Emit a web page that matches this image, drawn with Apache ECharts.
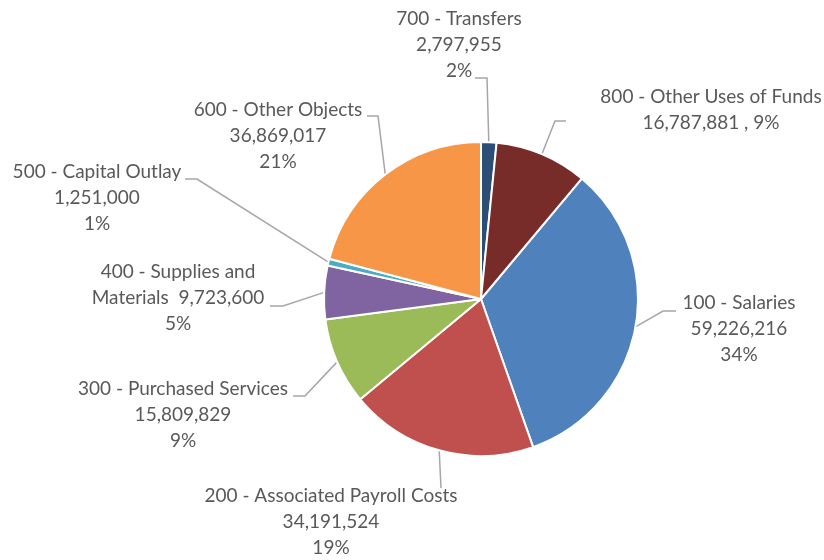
<!DOCTYPE html>
<html>
<head>
<meta charset="utf-8">
<script src="https://cdn.jsdelivr.net/npm/echarts@6/dist/echarts.min.js"></script>
<style>
  html, body { margin: 0; padding: 0; background: #ffffff; }
  #chart { width: 824px; height: 560px; }
</style>
</head>
<body>
<div id="chart"></div>
<script>
const categories = [
  "100 - Salaries",
  "200 - Associated Payroll Costs",
  "300 - Purchased Services",
  "400 - Supplies and Materials",
  "500 - Capital Outlay",
  "600 - Other Objects",
  "700 - Transfers",
  "800 - Other Uses of Funds",
];
const amounts = [59226216, 34191524, 15809829, 9723600, 1251000, 36869017, 2797955, 16787881];
const colors = ["#4f81bd", "#c0504d", "#9bbb59", "#8064a2", "#4bacc6", "#f79646", "#2c4d75", "#772c2a"];

// where each label sits and where its leader line bends / ends
const labelSpots = [
  { x: 739, y: 329, elbow: [663, 311], end: [676, 311] },
  { x: 331, y: 522, elbow: [441, 488], end: [441, 488] },
  { x: 183, y: 415, elbow: [305, 396], end: [293, 396] },
  { x: 178, y: 298, elbow: [283, 306], end: [270, 306] },
  { x: 97, y: 198, elbow: [197, 179], end: [185, 179] },
  { x: 278, y: 136, elbow: [378, 116], end: [367, 116] },
  { x: 459, y: 45, elbow: [487, 78], end: [475, 78] },
  { x: 711, y: 110, elbow: [555, 121], end: [566, 121] },
];

const total = amounts.reduce((a, b) => a + b, 0);
// first slice (100) starts after 700 and 800, which sit at 12 o'clock
const startAngle = 90 - (360 * (amounts[6] + amounts[7])) / total;

const fmt = (v) => v.toLocaleString("en-US");

function labelText(p) {
  const i = p.dataIndex;
  if (i === 7) return p.name + "\n" + fmt(p.value) + " , " + p.percent + "%";
  if (i === 3) return "400 - Supplies and\nMaterials  " + fmt(p.value) + "\n" + p.percent + "%";
  return p.name + "\n" + fmt(p.value) + "\n" + p.percent + "%";
}

const chart = echarts.init(document.getElementById("chart"), null, { renderer: "canvas" });
chart.setOption({
  backgroundColor: "#ffffff",
  animation: false,
  series: [
    {
      type: "pie",
      center: [481, 299],
      radius: 157,
      startAngle: startAngle,
      clockwise: true,
      avoidLabelOverlap: false,
      percentPrecision: 0,
      itemStyle: { borderColor: "#ffffff", borderWidth: 2 },
      label: {
        show: true,
        position: "outside",
        formatter: labelText,
        color: "#595959",
        fontFamily: "Lato",
        fontSize: 19,
        lineHeight: 26,
        align: "center",
      },
      labelLine: {
        show: true,
        lineStyle: { color: "#a6a6a6", width: 1.5 },
      },
      labelLayout: (params) => {
        const s = labelSpots[params.dataIndex];
        const edge = params.labelLinePoints ? params.labelLinePoints[0] : s.elbow;
        return {
          x: s.x,
          y: s.y,
          align: "center",
          verticalAlign: "middle",
          labelLinePoints: [edge, s.elbow, s.end],
        };
      },
      data: categories.map((name, i) => ({
        name,
        value: amounts[i],
        itemStyle: { color: colors[i] },
      })),
    },
  ],
});
</script>
</body>
</html>
